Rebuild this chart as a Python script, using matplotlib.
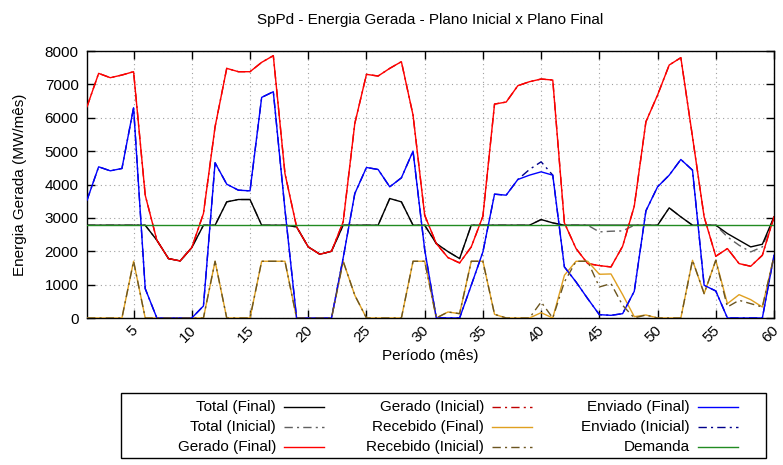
import numpy as np
import matplotlib
matplotlib.use("Agg")
import matplotlib.pyplot as plt
import matplotlib.transforms as mtransforms
from matplotlib.lines import Line2D
from matplotlib.patches import Rectangle

plt.rcParams['font.family'] = ['Liberation Sans', 'DejaVu Sans']
plt.rcParams['font.size'] = 11

# periodo (mes)
periodo = list(range(1, 61))

total_final = [2780, 2780, 2780, 2780, 2780, 2780, 2330, 1780, 1710, 2110,
               2780, 2780, 3480, 3550, 3550, 2780, 2780, 2780, 2730, 2130,
               1910, 2000, 2780, 2780, 2780, 2780, 3580, 3480, 2780, 2780,
               2230, 1990, 1780, 2780, 2780, 2780, 2780, 2780, 2780, 2950,
               2850, 2780, 2780, 2780, 2780, 2780, 2780, 2780, 2780, 2780,
               3300, 3030, 2780, 2780, 2780, 2530, 2330, 2130, 2210, 3030]
total_inicial = [2780, 2780, 2780, 2780, 2780, 2780, 2330, 1780, 1710, 2110,
                 2780, 2780, 3480, 3550, 3550, 2780, 2780, 2780, 2730, 2130,
                 1910, 2000, 2780, 2780, 2780, 2780, 3580, 3480, 2780, 2780,
                 2230, 1990, 1780, 2780, 2780, 2780, 2780, 2780, 2780, 2950,
                 2850, 2780, 2780, 2780, 2580, 2600, 2610, 2780, 2780, 2780,
                 3300, 3030, 2780, 2780, 2780, 2430, 2180, 1980, 2130, 3030]
gerado_final = [6330, 7330, 7200, 7280, 7380, 3680, 2330, 1780, 1710, 2110,
                3130, 5730, 7480, 7380, 7380, 7660, 7860, 4330, 2730, 2130,
                1910, 2000, 2880, 5830, 7300, 7250, 7480, 7680, 6080, 3080,
                2230, 1810, 1650, 2130, 3050, 6410, 6470, 6960, 7080, 7160,
                7130, 2850, 2080, 1630, 1570, 1530, 2150, 3350, 5880, 6680,
                7580, 7800, 5430, 3030, 1850, 2080, 1630, 1550, 1880, 3030]
gerado_inicial = list(gerado_final)
recebido_final = [0, 0, 0, 0, 1700, 0, 0, 0, 0, 0,
                  0, 1700, 0, 0, 0, 1700, 1700, 1700, 0, 0,
                  0, 0, 1700, 680, 0, 0, 0, 0, 1700, 1700,
                  0, 180, 130, 1700, 1700, 110, 0, 0, 0, 160,
                  0, 1280, 1700, 1700, 1310, 1320, 700, 40, 90, 0,
                  0, 0, 1730, 730, 1730, 430, 700, 550, 330, 1850]
recebido_inicial = [0, 0, 0, 0, 1700, 0, 0, 0, 0, 0,
                    0, 1700, 0, 0, 0, 1700, 1700, 1700, 0, 0,
                    0, 0, 1700, 680, 0, 0, 0, 0, 1700, 1700,
                    0, 180, 130, 1700, 1700, 110, 0, 0, 0, 480,
                    0, 1080, 1700, 1700, 930, 1030, 380, 0, 90, 0,
                    0, 0, 1730, 730, 1730, 330, 530, 430, 330, 1850]
enviado_final = [3530, 4530, 4410, 4480, 6300, 880, 0, 0, 0, 0,
                 360, 4650, 4010, 3830, 3810, 6610, 6780, 3250, 0, 0,
                 0, 0, 1800, 3730, 4510, 4450, 3930, 4200, 5000, 2050,
                 0, 0, 0, 980, 1980, 3710, 3680, 4150, 4280, 4380,
                 4280, 1530, 1080, 580, 100, 80, 130, 800, 3210, 3930,
                 4280, 4750, 4430, 980, 810, 0, 0, 0, 0, 1880]
enviado_inicial = [3530, 4530, 4410, 4480, 6300, 880, 0, 0, 0, 0,
                   360, 4650, 4010, 3830, 3810, 6610, 6780, 3250, 0, 0,
                   0, 0, 1800, 3730, 4510, 4450, 3930, 4200, 5000, 2050,
                   0, 0, 0, 980, 1980, 3710, 3680, 4150, 4450, 4680,
                   4280, 1530, 1080, 580, 100, 80, 130, 800, 3210, 3930,
                   4280, 4750, 4430, 980, 810, 0, 0, 0, 0, 1880]
demanda = [2780] * 60

W, H = 783, 465
fig = plt.figure(figsize=(W / 100, H / 100), dpi=100)
ax_l, ax_r, ax_t, ax_b = 87, 774, 51, 318
ax = fig.add_axes([ax_l / W, 1 - ax_b / H, (ax_r - ax_l) / W, (ax_b - ax_t) / H])

dashdot = (0, (6, 3, 1.5, 3))
# (nome, valores, cor, estilo, zorder)
series = [
    ("Total (Final)", total_final, '#000000', '-', 3),
    ("Total (Inicial)", total_inicial, '#606060', dashdot, 2),
    ("Gerado (Final)", gerado_final, '#ff0000', '-', 3),
    ("Gerado (Inicial)", gerado_inicial, '#c00000', dashdot, 2),
    ("Recebido (Final)", recebido_final, '#e0a020', '-', 3),
    ("Recebido (Inicial)", recebido_inicial, '#6b5520', dashdot, 4),
    ("Enviado (Final)", enviado_final, '#0000ff', '-', 3),
    ("Enviado (Inicial)", enviado_inicial, '#00008b', dashdot, 2),
    ("Demanda", demanda, '#228b22', '-', 5),
]
for name, vals, col, ls, z in series:
    ax.plot(periodo, vals, color=col, linestyle=ls, linewidth=1.0, zorder=z)

ax.set_xlim(1, 60)
ax.set_ylim(0, 8000)
ax.set_xticks(np.arange(5, 61, 5))
ax.set_yticks(np.arange(0, 8001, 1000))
ax.tick_params(direction='in', top=True, right=True, length=6, width=1,
               labelsize=11)
ax.tick_params(axis='y', pad=6)
ax.tick_params(axis='x', pad=7)
ax.grid(True, linestyle=(0, (1, 3)), color='#a0a0a0', linewidth=0.8)
for s in ax.spines.values():
    s.set_linewidth(1.0)

offset = mtransforms.ScaledTranslation(2 / 100, 0, fig.dpi_scale_trans)
for lbl in ax.get_xticklabels():
    lbl.set_rotation(45)
    lbl.set_ha('right')
    lbl.set_va('center')
    lbl.set_rotation_mode('anchor')
    lbl.set_transform(lbl.get_transform() + offset)

fig.text(430 / W, 1 - 20 / H, "SpPd - Energia Gerada - Plano Inicial x Plano Final",
         ha='center', va='center', fontsize=11)
fig.text(430 / W, 1 - 356 / H, "Período (mês)", ha='center', va='center', fontsize=11)
fig.text(20 / W, 1 - 185 / H, "Energia Gerada (MW/mês)", ha='center', va='center',
         rotation=90, fontsize=11)

# legenda estilo gnuplot
box_l, box_r, box_t, box_b = 121, 766, 393, 458
fig.patches.append(Rectangle((box_l / W, 1 - box_b / H), (box_r - box_l) / W,
                             (box_b - box_t) / H, transform=fig.transFigure,
                             fill=False, edgecolor='black', linewidth=1.0))
col_text_x = [276, 484, 690]
rows_y = [407, 427, 447]
for i, (name, vals, col, ls, z) in enumerate(series):
    c, r = divmod(i, 3)
    tx = col_text_x[c]
    ty = rows_y[r]
    fig.text(tx / W, 1 - ty / H, name, ha='right', va='center', fontsize=11)
    fig.lines.append(Line2D([(tx + 8) / W, (tx + 48) / W], [1 - ty / H, 1 - ty / H],
                            transform=fig.transFigure, color=col, linestyle=ls,
                            linewidth=1.0))

fig.savefig("out.png", dpi=100)
